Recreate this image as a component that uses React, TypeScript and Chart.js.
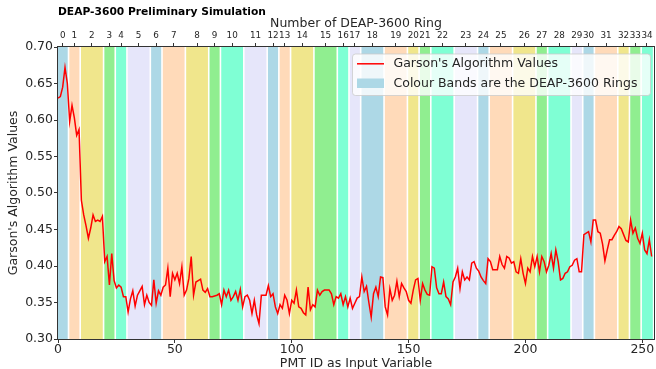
import React, { useEffect, useRef } from "react";
import { Chart, registerables } from "chart.js";

Chart.register(...registerables);

// Garson's algorithm value for each PMT ID (0..254)
const garsonValues: number[] = [
  0.630, 0.632, 0.645, 0.672, 0.650, 0.598, 0.620, 0.603, 0.579, 0.587,
  0.490, 0.470, 0.455, 0.438, 0.452, 0.470, 0.461, 0.463, 0.461, 0.468,
  0.406, 0.413, 0.374, 0.417, 0.380, 0.370, 0.374, 0.371, 0.358, 0.358,
  0.337, 0.355, 0.366, 0.345, 0.360, 0.366, 0.372, 0.347, 0.360, 0.350,
  0.346, 0.381, 0.349, 0.366, 0.360, 0.371, 0.374, 0.397, 0.358, 0.390,
  0.381, 0.390, 0.376, 0.399, 0.360, 0.367, 0.383, 0.413, 0.360, 0.378,
  0.380, 0.382, 0.367, 0.364, 0.369, 0.358, 0.358, 0.359, 0.360, 0.362,
  0.347, 0.367, 0.358, 0.367, 0.353, 0.358, 0.365, 0.353, 0.368, 0.344,
  0.358, 0.360, 0.353, 0.335, 0.353, 0.333, 0.321, 0.360, 0.360, 0.360,
  0.373, 0.358, 0.362, 0.344, 0.335, 0.347, 0.342, 0.360, 0.353, 0.335,
  0.353, 0.349, 0.367, 0.344, 0.342, 0.336, 0.333, 0.371, 0.340, 0.347,
  0.344, 0.367, 0.360, 0.365, 0.367, 0.367, 0.367, 0.362, 0.347, 0.358,
  0.356, 0.362, 0.347, 0.358, 0.344, 0.356, 0.342, 0.349, 0.356, 0.358,
  0.385, 0.365, 0.372, 0.350, 0.330, 0.362, 0.371, 0.358, 0.385, 0.384,
  0.344, 0.333, 0.369, 0.353, 0.360, 0.379, 0.358, 0.376, 0.370, 0.365,
  0.353, 0.349, 0.367, 0.381, 0.383, 0.353, 0.376, 0.367, 0.361, 0.360,
  0.399, 0.397, 0.370, 0.362, 0.362, 0.378, 0.358, 0.355, 0.347, 0.378,
  0.385, 0.397, 0.369, 0.392, 0.381, 0.385, 0.381, 0.404, 0.406, 0.397,
  0.393, 0.385, 0.380, 0.376, 0.410, 0.406, 0.395, 0.395, 0.395, 0.413,
  0.402, 0.397, 0.413, 0.411, 0.404, 0.406, 0.392, 0.390, 0.410, 0.390,
  0.376, 0.397, 0.392, 0.413, 0.399, 0.413, 0.392, 0.413, 0.406, 0.392,
  0.401, 0.417, 0.397, 0.422, 0.406, 0.381, 0.383, 0.390, 0.392, 0.399,
  0.401, 0.408, 0.410, 0.392, 0.392, 0.443, 0.445, 0.447, 0.433, 0.463,
  0.463, 0.447, 0.445, 0.430, 0.407, 0.422, 0.436, 0.436, 0.442, 0.447,
  0.454, 0.451, 0.443, 0.435, 0.433, 0.463, 0.445, 0.452, 0.438, 0.431,
  0.445, 0.422, 0.417, 0.436, 0.413,
];

// First PMT ID of every DEAP-3600 ring (ring 0 .. ring 34)
const ringStarts: number[] = [
  0, 5, 10, 20, 25, 30, 40, 45, 55, 65, 70, 80, 90, 95, 100, 110, 120, 125,
  130, 140, 150, 155, 160, 170, 180, 185, 195, 205, 210, 220, 225, 230, 240,
  245, 250,
];
const lastPmtId = 254;
const ringLabels: string[] = ringStarts.map((_, i) => String(i));
const bandColors: string[] = [
  "#ADD8E6", // lightblue
  "#FFDAB9", // peachpuff
  "#F0E68C", // khaki
  "#90EE90", // lightgreen
  "#7FFFD4", // aquamarine
  "#E6E6FA", // lavender
];

const xTicks: number[] = [0, 50, 100, 150, 200, 250];
const yTicks: number[] = [0.3, 0.35, 0.4, 0.45, 0.5, 0.55, 0.6, 0.65, 0.7];

const FONT = "'DejaVu Sans', sans-serif";
const TEXT = "#262626";

const ringEnds = ringStarts.map((s, i) =>
  i < ringStarts.length - 1 ? ringStarts[i + 1] - 1 : lastPmtId
);
const ringCenters = ringStarts.map((s, i) => (s + ringEnds[i]) / 2);

const bandsPlugin = {
  id: "ringBands",
  beforeDatasetsDraw(chart: any) {
    const { ctx, chartArea } = chart;
    const xs = chart.scales.x;
    ctx.save();
    ctx.beginPath();
    ctx.rect(chartArea.left, chartArea.top, chartArea.right - chartArea.left, chartArea.bottom - chartArea.top);
    ctx.clip();
    ringStarts.forEach((s, i) => {
      const x0 = xs.getPixelForValue(s - 0.5);
      const x1 = xs.getPixelForValue(ringEnds[i] + 0.5);
      ctx.fillStyle = bandColors[i % bandColors.length];
      ctx.fillRect(x0, chartArea.top, x1 - x0, chartArea.bottom - chartArea.top);
    });
    ctx.strokeStyle = "#ffffff";
    ctx.lineWidth = 1.6;
    ringStarts.forEach((s) => {
      const x = xs.getPixelForValue(s - 0.5);
      ctx.beginPath();
      ctx.moveTo(x, chartArea.top);
      ctx.lineTo(x, chartArea.bottom);
      ctx.stroke();
    });
    ctx.restore();
  },
};

const decorPlugin = {
  id: "decor",
  afterDraw(chart: any) {
    const { ctx, chartArea } = chart;
    ctx.save();
    // frame
    ctx.strokeStyle = "#333333";
    ctx.lineWidth = 1;
    ctx.strokeRect(chartArea.left - 0.5, chartArea.top - 0.5, chartArea.right - chartArea.left + 1, chartArea.bottom - chartArea.top + 1);

    // title
    ctx.fillStyle = "#000000";
    ctx.font = `bold 10.7px ${FONT}`;
    ctx.textAlign = "left";
    ctx.textBaseline = "middle";
    ctx.fillText("DEAP-3600 Preliminary Simulation", chartArea.left, 12);

    // legend
    const lx = chartArea.right - 301.5;
    const ly = chartArea.top + 7;
    const lw = 298;
    const lh = 41.5;
    ctx.beginPath();
    ctx.roundRect(lx, ly, lw, lh, 3);
    ctx.fillStyle = "rgba(255,255,255,0.8)";
    ctx.fill();
    ctx.strokeStyle = "rgba(204,204,204,0.8)";
    ctx.lineWidth = 1;
    ctx.stroke();

    ctx.strokeStyle = "red";
    ctx.lineWidth = 1.5;
    ctx.beginPath();
    ctx.moveTo(lx + 4.5, ly + 9.8);
    ctx.lineTo(lx + 31.5, ly + 9.8);
    ctx.stroke();
    ctx.fillStyle = bandColors[0];
    ctx.fillRect(lx + 4.5, ly + 24.5, 27, 9.5);

    ctx.fillStyle = TEXT;
    ctx.font = `12.5px ${FONT}`;
    ctx.textAlign = "left";
    ctx.textBaseline = "middle";
    ctx.fillText("Garson's Algorithm Values", lx + 41, ly + 10);
    ctx.fillText("Colour Bands are the DEAP-3600 Rings", lx + 41, ly + 29.5);
    ctx.restore();
  },
};

export default function App() {
  const ref = useRef<HTMLCanvasElement | null>(null);

  useEffect(() => {
    if (!ref.current) return;
    const chart = new Chart(ref.current, {
      type: "line",
      data: {
        datasets: [
          {
            label: "Garson's Algorithm Values",
            data: garsonValues.map((v, i) => ({ x: i, y: v })),
            borderColor: "red",
            borderWidth: 1.5,
            pointRadius: 0,
            tension: 0,
            fill: false,
          },
        ],
      },
      options: {
        animation: false,
        responsive: false,
        layout: { padding: { left: 0, right: 2, top: 0, bottom: 0 } },
        plugins: {
          legend: { display: false },
          title: { display: false },
          tooltip: { enabled: false },
        },
        scales: {
          x: {
            type: "linear",
            position: "bottom",
            min: 0,
            max: 255,
            afterBuildTicks: (axis: any) => {
              axis.ticks = xTicks.map((v) => ({ value: v }));
            },
            afterFit: (s: any) => {
              s.height = 30;
            },
            grid: { drawOnChartArea: false, tickLength: 4, color: "#333", tickWidth: 1 },
            border: { display: false },
            ticks: {
              font: { family: FONT, size: 12.5 },
              color: TEXT,
              padding: -1,
              maxRotation: 0,
            },
            title: {
              display: true,
              text: "PMT ID as Input Variable",
              font: { family: FONT, size: 12.5 },
              color: TEXT,
              padding: { top: 0, bottom: -2 },
            },
          },
          x2: {
            type: "linear",
            position: "top",
            min: 0,
            max: 255,
            afterBuildTicks: (axis: any) => {
              axis.ticks = ringCenters.map((v) => ({ value: v }));
            },
            afterFit: (s: any) => {
              s.height = 47;
            },
            grid: { drawOnChartArea: false, tickLength: 4, color: "#333" },
            border: { display: false },
            ticks: {
              autoSkip: false,
              maxRotation: 0,
              font: { family: FONT, size: 8.8 },
              color: TEXT,
              padding: 2,
              callback: (_v: any, i: number) => ringLabels[i],
            },
            title: {
              display: true,
              text: "Number of DEAP-3600 Ring",
              font: { family: FONT, size: 12.5 },
              color: TEXT,
              padding: { top: 16, bottom: 0 },
            },
          },
          y: {
            type: "linear",
            min: 0.3,
            max: 0.7,
            afterBuildTicks: (axis: any) => {
              axis.ticks = yTicks.map((v) => ({ value: v }));
            },
            afterFit: (s: any) => {
              s.width = 58;
            },
            grid: { drawOnChartArea: false, tickLength: 4, color: "#333" },
            border: { display: false },
            ticks: {
              font: { family: FONT, size: 12.5 },
              color: TEXT,
              padding: 1,
              callback: (v: any) => Number(v).toFixed(2),
            },
            title: {
              display: true,
              text: "Garson's Algorithm Values",
              font: { family: FONT, size: 12.5 },
              color: TEXT,
              padding: { top: 6.5, bottom: 0 },
            },
          },
        },
      },
      plugins: [bandsPlugin, decorPlugin],
    } as any);
    return () => chart.destroy();
  }, []);

  return (
    <div style={{ position: "fixed", left: 0, top: 0, width: 656, height: 369, background: "#fff" }}>
      <canvas ref={ref} width={656} height={369} />
    </div>
  );
}
